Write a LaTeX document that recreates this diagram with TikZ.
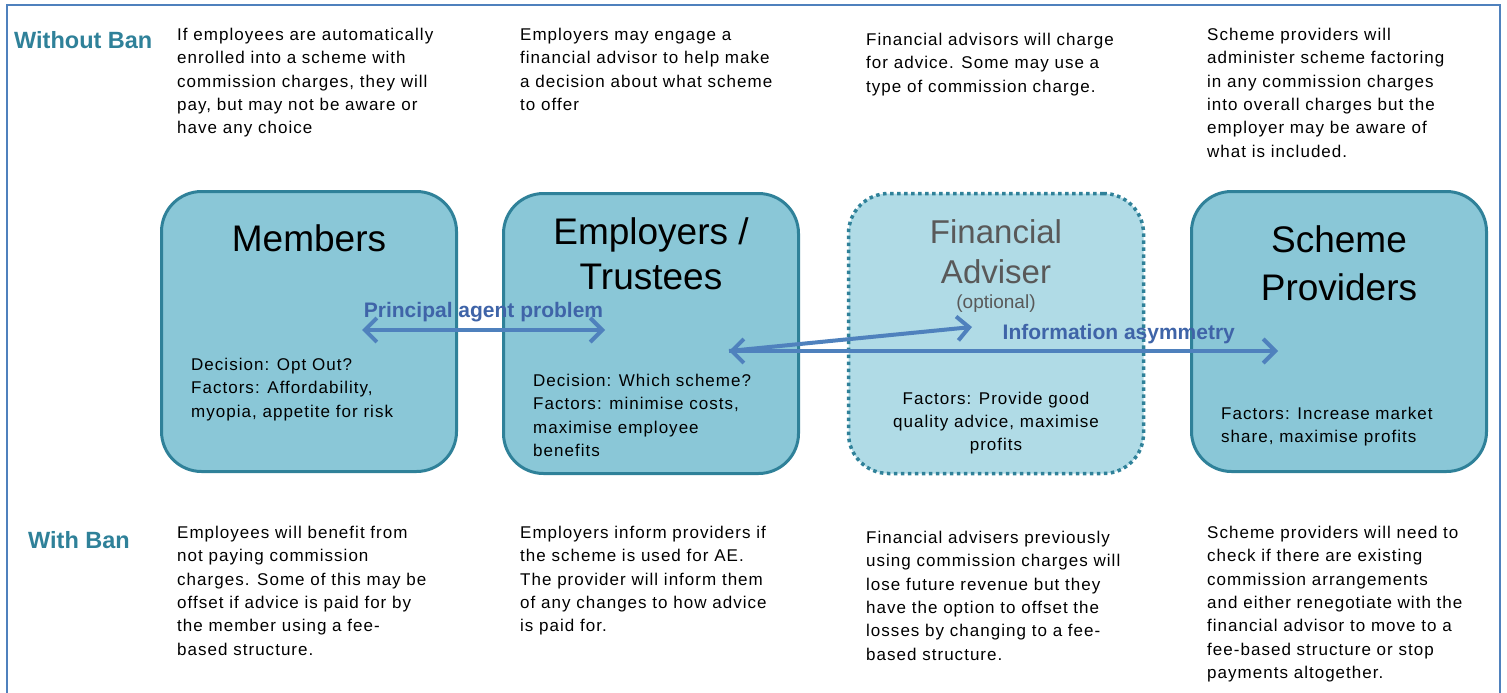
\documentclass[tikz,border=0pt]{standalone}
\usepackage{fontspec}
\setmainfont{Liberation Sans}
\newfontfamily\spacedfont[LetterSpace=6]{Liberation Sans}
\usetikzlibrary{positioning,arrows.meta}
\definecolor{boxfill}{HTML}{8AC7D7}
\definecolor{advfill}{HTML}{B0DBE6}
\definecolor{boxline}{HTML}{2F8199}
\definecolor{arrowblue}{HTML}{4F81BD}
\definecolor{labelblue}{HTML}{3F64A8}
\definecolor{advgray}{HTML}{595959}
\begin{document}
\begin{tikzpicture}[x=1pt, y=-1pt, >={Straight Barb[length=12pt,width=24pt]},
    box/.style = {draw=boxline, fill=boxfill, line width=3pt, rounded corners=40pt, minimum width=295pt, minimum height=280pt},
    advbox/.style = {box, fill=advfill, line width=3.5pt, dash pattern=on 3.5pt off 3.5pt},
    title/.style = {inner sep=0pt, align=center, font=\fontsize{37}{45}\selectfont},
    body/.style = {inner sep=0pt, align=left, anchor=north west, font=\spacedfont\fontsize{17}{23.3}\selectfont},
    ban/.style = {inner sep=0pt, anchor=north west, text=boxline, font=\bfseries\fontsize{23.5}{26}\selectfont},
    link/.style = {arrowblue, line width=4pt},
    lbl/.style = {inner sep=0pt, text=labelblue, font=\bfseries\fontsize{21}{24}\selectfont}]
    \useasboundingbox (0,0) rectangle (1507,693);
    \draw[arrowblue, line width=2pt] (7,693) -- (7,5) -- (1500,5) -- (1500,693);
    % the four parties
    \node[box] (mem) at (309,331.5) {};
    \node[box] (emp) at (651,333.5) {};
    \node[advbox] (adv) at (996,333.5) {};
    \node[box] (prov) at (1339,331.5) {};
    \node[title, below=34.5pt of mem.north] (memt) {Members};
    \node[title, below=25pt of emp.north] (empt) {Employers /\\Trustees};
    \node[title, text=advgray, font=\fontsize{33}{40}\selectfont, below=28pt of adv.north] (advt) {Financial\\Adviser};
    \node[inner sep=0pt, text=advgray, font=\fontsize{19}{22}\selectfont, below=10pt of advt] (advo) {(optional)};
    \node[title, font=\fontsize{37}{48}\selectfont, below=35pt of prov.north] (provt) {Scheme\\Providers};
    \node[body, below right=168pt and 31pt of mem.north west] (memd) {Decision: Opt Out?\\Factors: Affordability,\\myopia, appetite for risk};
    \node[body, below right=182pt and 31pt of emp.north west] (empd) {Decision: Which scheme?\\Factors: minimise costs,\\maximise employee\\benefits};
    \node[body, align=center, below=200pt of adv.north] (advd) {Factors: Provide good\\quality advice, maximise\\profits};
    \node[body, below right=217pt and 31pt of prov.north west] (provd) {Factors: Increase market\\share, maximise profits};
    % without ban
    \node[ban] (wo) at (14,31) {Without Ban};
    \node[body] (wo1) at (177,28) {If employees are automatically\\enrolled into a scheme with\\commission charges, they will\\pay,  but may not be aware or\\have any choice};
    \node[body] (wo2) at (520,28) {Employers may engage a\\financial advisor to help make\\a decision about what scheme\\to offer};
    \node[body] (wo3) at (866,33) {Financial advisors will charge\\for advice.  Some may use a\\type  of commission charge.};
    \node[body] (wo4) at (1207,28) {Scheme providers will\\administer scheme factoring\\in any commission charges\\into overall charges but the\\employer may be aware of\\what is included.};
    % with ban
    \node[ban] (wi) at (28,531) {With Ban};
    \node[body] (wi1) at (177,526) {Employees will benefit from\\not paying commission\\charges. Some of this may be\\offset if advice is paid for by\\the member using a fee-\\based structure.};
    \node[body] (wi2) at (520,526) {Employers inform providers if\\the scheme is used for AE.\\The provider will inform them\\of any changes to how advice\\is paid for.};
    \node[body] (wi3) at (866,531) {Financial advisers previously\\using commission charges will\\lose future revenue but they\\have the option to  offset the\\losses by changing to a fee-\\based structure.};
    \node[body] (wi4) at (1207,526) {Scheme providers will need to\\check if there are existing\\commission arrangements\\and either renegotiate with the\\financial advisor to move to  a\\fee-based structure or stop\\payments altogether.};
    % problems
    \coordinate (pa-l) at (362,330);
    \coordinate (pa-r) at (605,330);
    \coordinate (ia-l) at (729,351);
    \coordinate (ia-r) at (1278,351);
    \coordinate (ia-m) at (972,327);
    \draw[link, <->] (pa-l) -- node[lbl, above=6pt] (pal) {Principal agent problem} (pa-r);
    \draw[link, <->] (ia-l) -- node[lbl, pos=0.71, above=5pt] (ial) {Information asymmetry} (ia-r);
    \draw[link, ->] (ia-l) -- (ia-m);
\end{tikzpicture}
\end{document}
